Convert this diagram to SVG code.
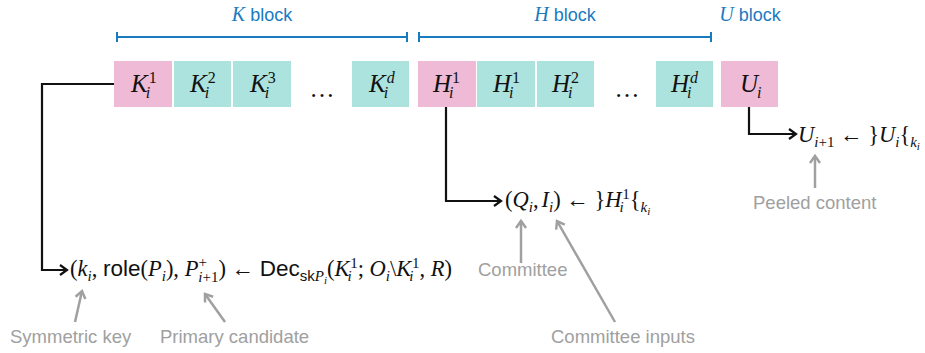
<svg xmlns="http://www.w3.org/2000/svg" width="925" height="353" viewBox="0 0 925 353">
<style>
.pink{fill:#efbad6}
.teal{fill:#ace3de}
.bx{font-family:"Liberation Serif",serif;font-size:25px;fill:#111}
.m{font-family:"Liberation Serif",serif;font-size:22.5px;fill:#111}
.it{font-style:italic}
.sf{font-family:"Liberation Sans",sans-serif}
.s{font-size:15px}
.ss{font-size:11px}
.bs{font-size:16px}
.lbl{font-family:"Liberation Sans",sans-serif;font-size:18.5px;fill:#a0a0a0}
.blk{font-family:"Liberation Sans",sans-serif;font-size:18px;fill:#1a7abf}
.br{stroke:#1a7abf;stroke-width:2;fill:none}
.conn{stroke:#111;stroke-width:2.2;fill:none}
.gconn{stroke:#a0a0a0;stroke-width:2.5;fill:none}
</style>
<defs>
<marker id="ab" markerUnits="userSpaceOnUse" markerWidth="14" markerHeight="14" refX="9" refY="6" orient="auto">
<path d="M2,1 L9,6 L2,11" fill="none" stroke="#111" stroke-width="2.2"/>
</marker>
<marker id="ag" markerUnits="userSpaceOnUse" markerWidth="14" markerHeight="14" refX="9" refY="6" orient="auto">
<path d="M2,1 L9,6 L2,11" fill="none" stroke="#a0a0a0" stroke-width="2.5"/>
</marker>
</defs>

<g id="brackets">
<text class="blk" x="262" y="21" text-anchor="middle"><tspan class="it" style="font-family:'Liberation Serif',serif;font-size:20px">K</tspan> block</text>
<path class="br" d="M117,37 H407 M117,32 V42 M407,32 V42"/>
<text class="blk" x="565" y="21" text-anchor="middle"><tspan class="it" style="font-family:'Liberation Serif',serif;font-size:20px">H</tspan> block</text>
<path class="br" d="M419,37 H711 M419,32 V42 M711,32 V42"/>
<text class="blk" x="750" y="21" text-anchor="middle"><tspan class="it" style="font-family:'Liberation Serif',serif;font-size:20px">U</tspan> block</text>
</g>

<g id="K1"><rect class="pink" x="114" y="61" width="58" height="46"/><text class="bx" x="131" y="92"><tspan class="it">K</tspan><tspan class="bs it" dx="-2" dy="6">i</tspan><tspan class="bs" dx="-1.5" dy="-15">1</tspan></text></g>
<g id="K2"><rect class="teal" x="174" y="61" width="57" height="46"/><text class="bx" x="190" y="92"><tspan class="it">K</tspan><tspan class="bs it" dx="-2" dy="6">i</tspan><tspan class="bs" dx="-1.5" dy="-15">2</tspan></text></g>
<g id="K3"><rect class="teal" x="233" y="61" width="58" height="46"/><text class="bx" x="250" y="92"><tspan class="it">K</tspan><tspan class="bs it" dx="-2" dy="6">i</tspan><tspan class="bs" dx="-1.5" dy="-15">3</tspan></text></g>
<g id="Kdots"><text class="bx" x="322" y="97" text-anchor="middle">…</text></g>
<g id="Kd"><rect class="teal" x="352" y="61" width="57" height="46"/><text class="bx" x="369" y="92"><tspan class="it">K</tspan><tspan class="bs it" dx="-2" dy="6">i</tspan><tspan class="bs it" dx="-1.5" dy="-15">d</tspan></text></g>

<g id="H1a"><rect class="pink" x="418" y="61" width="58" height="46"/><text class="bx" x="433" y="92"><tspan class="it">H</tspan><tspan class="bs it" dx="-2" dy="6">i</tspan><tspan class="bs" dx="-1.5" dy="-15">1</tspan></text></g>
<g id="H1b"><rect class="teal" x="477" y="61" width="58" height="46"/><text class="bx" x="493" y="92"><tspan class="it">H</tspan><tspan class="bs it" dx="-2" dy="6">i</tspan><tspan class="bs" dx="-1.5" dy="-15">1</tspan></text></g>
<g id="H2"><rect class="teal" x="537" y="61" width="57" height="46"/><text class="bx" x="552" y="92"><tspan class="it">H</tspan><tspan class="bs it" dx="-2" dy="6">i</tspan><tspan class="bs" dx="-1.5" dy="-15">2</tspan></text></g>
<g id="Hdots"><text class="bx" x="627" y="97" text-anchor="middle">…</text></g>
<g id="Hd"><rect class="teal" x="656" y="61" width="57" height="46"/><text class="bx" x="671" y="92"><tspan class="it">H</tspan><tspan class="bs it" dx="-2" dy="6">i</tspan><tspan class="bs it" dx="-1.5" dy="-15">d</tspan></text></g>
<g id="U"><rect class="pink" x="721" y="61" width="57" height="46"/><text class="bx" x="740" y="92"><tspan class="it">U</tspan><tspan class="bs it" dx="-1" dy="6">i</tspan></text></g>

<g id="connectors">
<path class="conn" d="M114,84 H42 V270 H67" marker-end="url(#ab)"/>
<path class="conn" d="M446,107 V201 H501" marker-end="url(#ab)"/>
<path class="conn" d="M749,107 V134 H796" marker-end="url(#ab)"/>
<path class="gconn" d="M75,322 L82,291" marker-end="url(#ag)"/>
<path class="gconn" d="M225,322 L205,294" marker-end="url(#ag)"/>
<path class="gconn" d="M521,263 V221" marker-end="url(#ag)"/>
<path class="gconn" d="M615,322 L557,221" marker-end="url(#ag)"/>
<path class="gconn" d="M815,188 V156" marker-end="url(#ag)"/>
</g>

<g id="formula-K">
<text class="m" x="70" y="276">(<tspan class="it">k</tspan><tspan class="s it" dy="5">i</tspan><tspan dy="-5">, </tspan><tspan class="sf">role</tspan>(<tspan class="it">P</tspan><tspan class="s it" dy="5">i</tspan><tspan dy="-5">), </tspan><tspan class="it">P</tspan><tspan class="s" dy="-9">+</tspan><tspan class="s it" dx="-8.5" dy="15">i</tspan><tspan class="s">+1</tspan><tspan dy="-6">) ← </tspan><tspan class="sf">Dec</tspan><tspan class="sf s" dy="5">sk</tspan><tspan class="s it">P</tspan><tspan class="ss it" dy="3">i</tspan><tspan dy="-8">(</tspan><tspan class="it">K</tspan><tspan class="s it" dx="-2" dy="5">i</tspan><tspan class="s" dx="-1.5" dy="-13">1</tspan><tspan dy="8">; </tspan><tspan class="it">O</tspan><tspan class="s it" dy="5">i</tspan><tspan dy="-5">\</tspan><tspan class="it">K</tspan><tspan class="s it" dx="-2" dy="5">i</tspan><tspan class="s" dx="-1.5" dy="-13">1</tspan><tspan dy="8">, </tspan><tspan class="it">R</tspan>)</text>
</g>
<g id="formula-H">
<text class="m" x="505" y="207">(<tspan class="it">Q</tspan><tspan class="s it" dy="5">i</tspan><tspan dy="-5">,</tspan><tspan class="it" dx="3">I</tspan><tspan class="s it" dy="5">i</tspan><tspan dy="-5">) ← }</tspan><tspan class="it">H</tspan><tspan class="s it" dx="-2" dy="5">i</tspan><tspan class="s" dx="-1.5" dy="-13">1</tspan><tspan dy="8">{</tspan><tspan class="s it" dy="5">k</tspan><tspan class="ss it" dy="3">i</tspan></text>
</g>
<g id="formula-U">
<text class="m" x="798" y="142"><tspan class="it">U</tspan><tspan class="s it" dy="5">i</tspan><tspan class="s">+1</tspan><tspan dy="-5"> ← }</tspan><tspan class="it">U</tspan><tspan class="s it" dy="5">i</tspan><tspan dy="-5">{</tspan><tspan class="s it" dy="5">k</tspan><tspan class="ss it" dy="3">i</tspan></text>
</g>

<g id="labels">
<text class="lbl" x="10" y="343">Symmetric key</text>
<text class="lbl" x="160" y="343">Primary candidate</text>
<text class="lbl" x="478" y="276">Committee</text>
<text class="lbl" x="551" y="343">Committee inputs</text>
<text class="lbl" x="753" y="209">Peeled content</text>
</g>
</svg>
